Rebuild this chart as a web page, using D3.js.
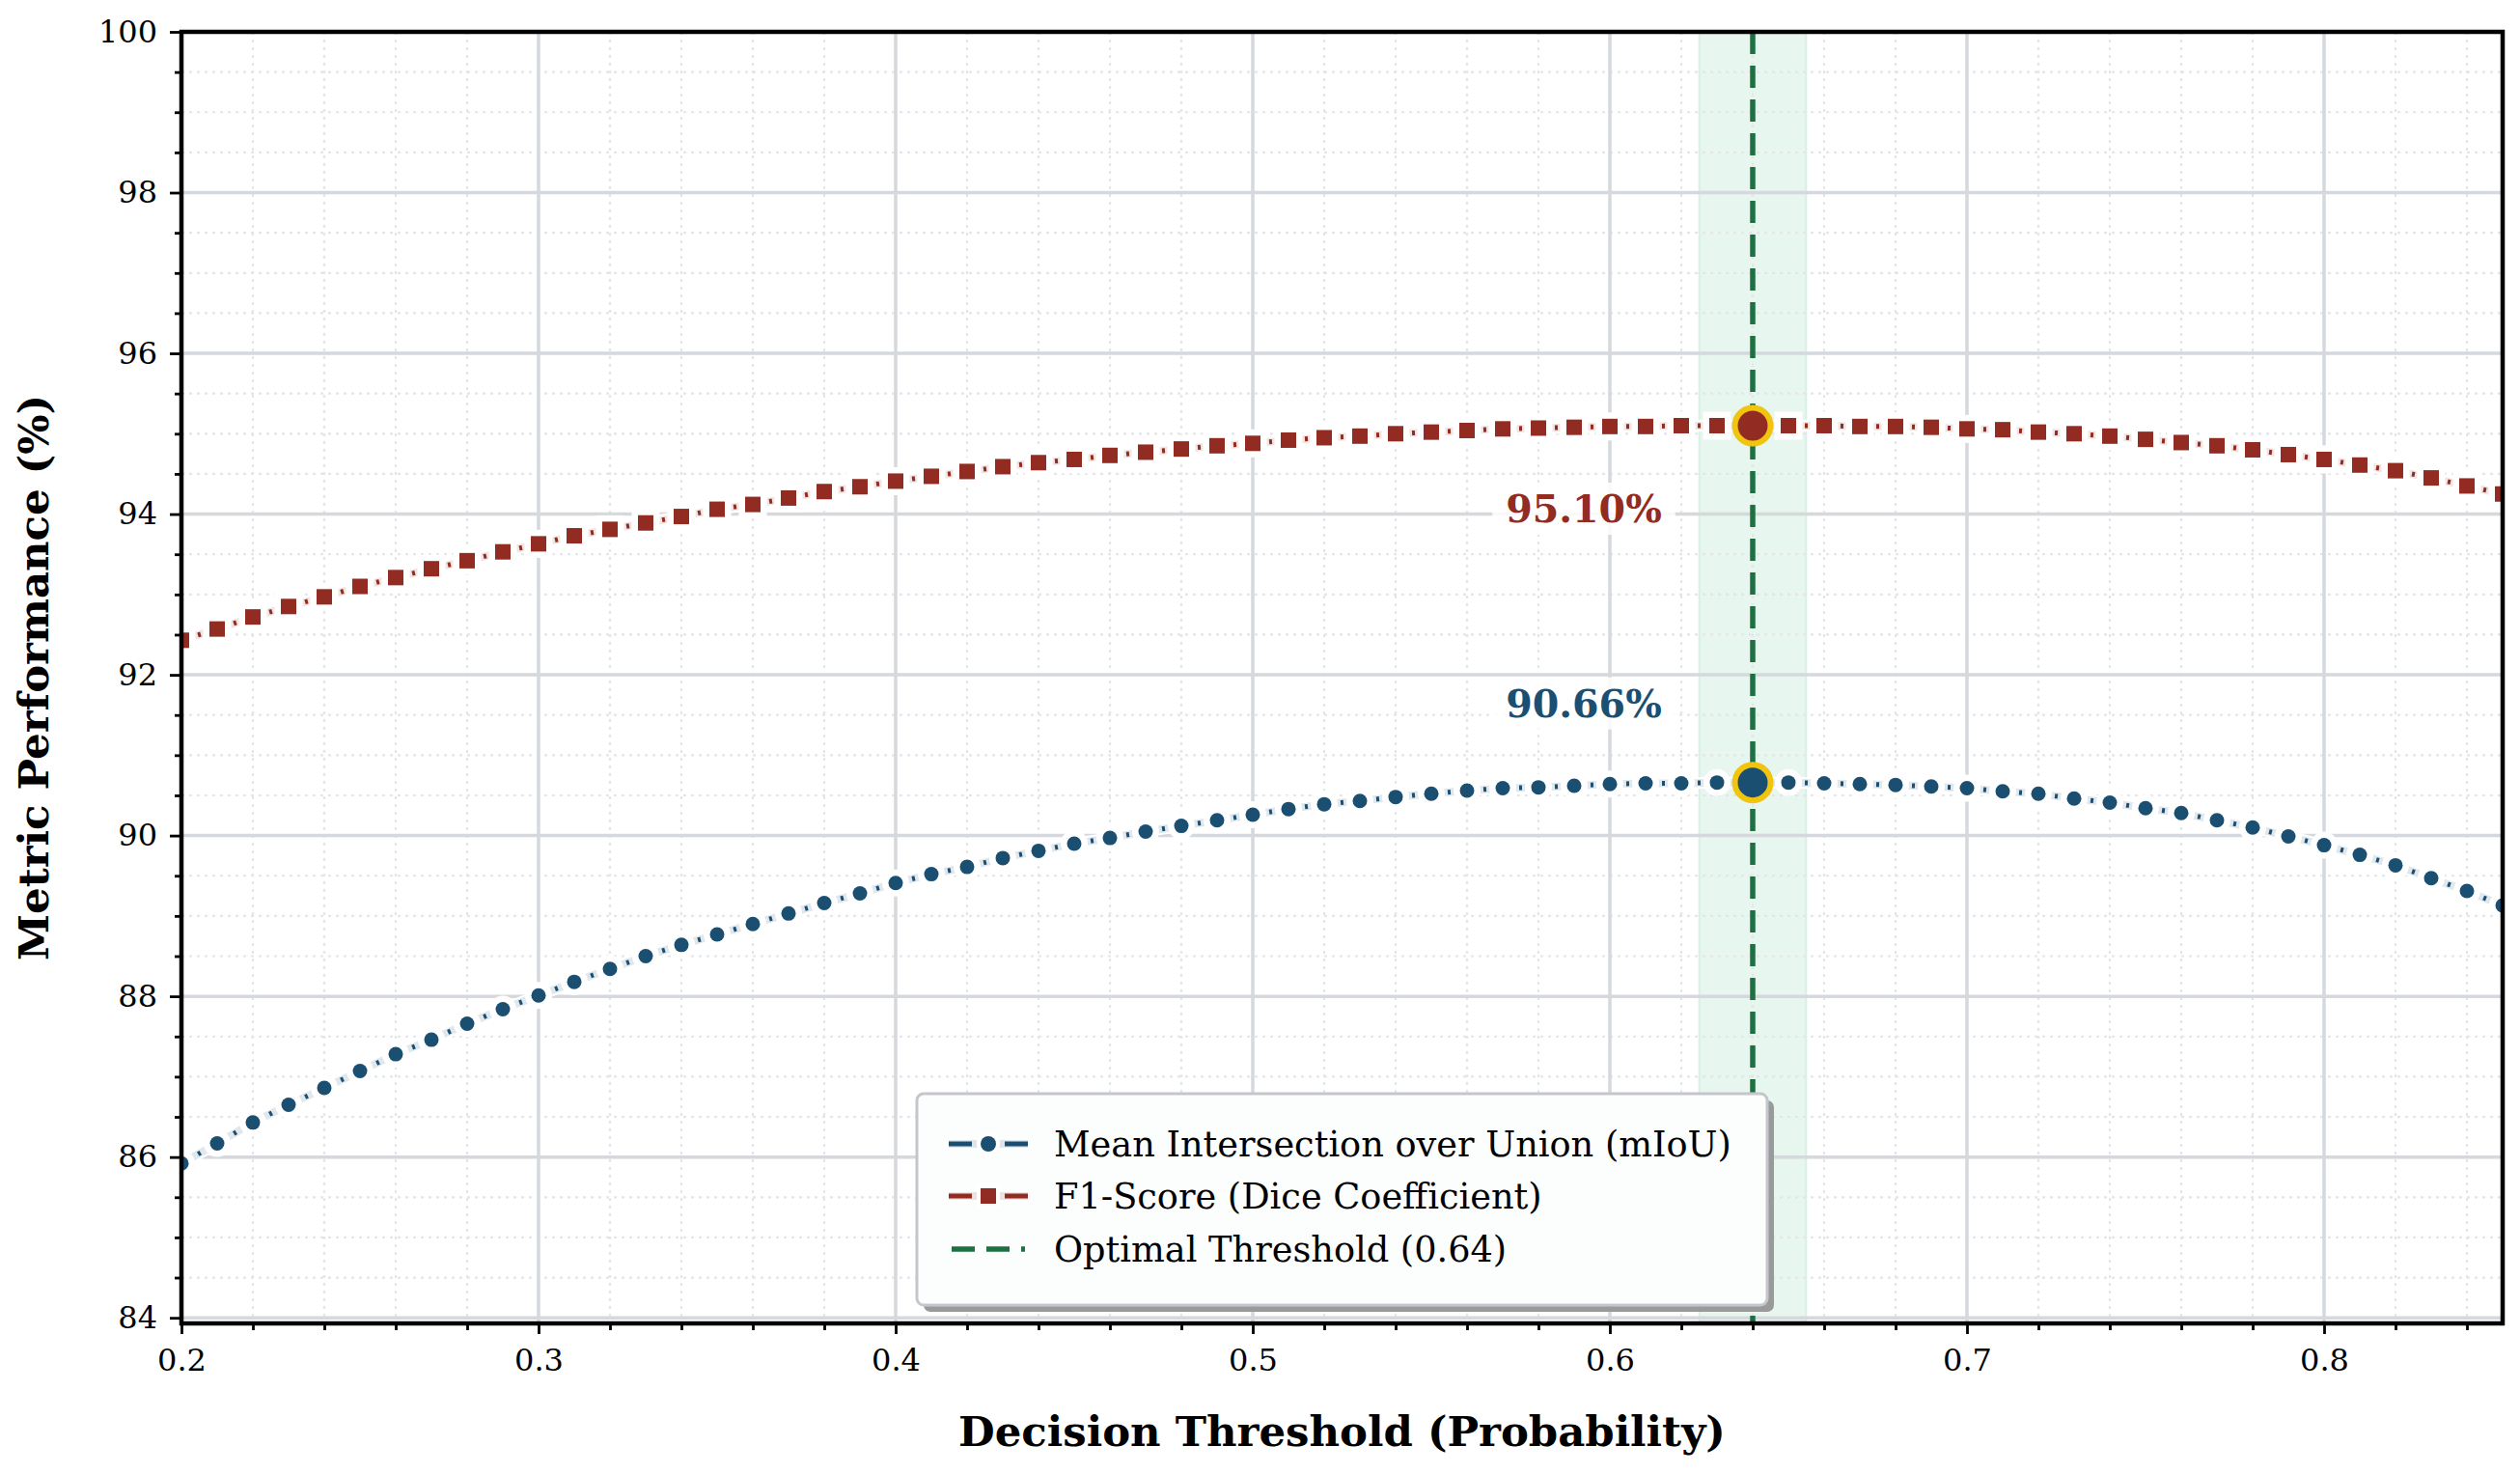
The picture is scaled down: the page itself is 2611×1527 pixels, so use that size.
<!DOCTYPE html>
<html>
<head>
<meta charset="utf-8">
<script src="https://cdn.jsdelivr.net/npm/d3@7"></script>
<style>
  body { margin: 0; background: #fff; }
  svg { display: block; font-family: "DejaVu Serif", serif; }
</style>
</head>
<body>
<svg id="chart"></svg>
<script>
// decision thresholds (x)
const thresholds = [0.20, 0.21, 0.22, 0.23, 0.24, 0.25, 0.26, 0.27, 0.28, 0.29,
  0.30, 0.31, 0.32, 0.33, 0.34, 0.35, 0.36, 0.37, 0.38, 0.39,
  0.40, 0.41, 0.42, 0.43, 0.44, 0.45, 0.46, 0.47, 0.48, 0.49,
  0.50, 0.51, 0.52, 0.53, 0.54, 0.55, 0.56, 0.57, 0.58, 0.59,
  0.60, 0.61, 0.62, 0.63, 0.64, 0.65, 0.66, 0.67, 0.68, 0.69,
  0.70, 0.71, 0.72, 0.73, 0.74, 0.75, 0.76, 0.77, 0.78, 0.79,
  0.80, 0.81, 0.82, 0.83, 0.84, 0.85];

// mIoU (%)
const miouValues = [85.92, 86.17, 86.43, 86.65, 86.86, 87.07, 87.28, 87.46, 87.66, 87.84,
  88.01, 88.18, 88.34, 88.50, 88.64, 88.77, 88.90, 89.03, 89.16, 89.28,
  89.41, 89.52, 89.61, 89.72, 89.81, 89.90, 89.97, 90.05, 90.12, 90.19,
  90.26, 90.33, 90.39, 90.43, 90.48, 90.52, 90.56, 90.59, 90.60, 90.62,
  90.64, 90.65, 90.65, 90.66, 90.66, 90.66, 90.65, 90.64, 90.63, 90.61,
  90.59, 90.55, 90.52, 90.46, 90.41, 90.34, 90.28, 90.19, 90.10, 89.99,
  89.88, 89.76, 89.63, 89.47, 89.31, 89.13];

// F1 / Dice (%)
const f1Values = [92.43, 92.57, 92.72, 92.85, 92.97, 93.10, 93.21, 93.32, 93.42, 93.53,
  93.63, 93.73, 93.81, 93.89, 93.97, 94.06, 94.12, 94.20, 94.28, 94.34,
  94.41, 94.47, 94.53, 94.59, 94.64, 94.68, 94.73, 94.77, 94.81, 94.85,
  94.88, 94.92, 94.95, 94.97, 95.00, 95.02, 95.04, 95.06, 95.07, 95.08,
  95.09, 95.09, 95.10, 95.10, 95.10, 95.10, 95.10, 95.09, 95.09, 95.08,
  95.06, 95.05, 95.02, 95.00, 94.97, 94.93, 94.89, 94.85, 94.80, 94.74,
  94.68, 94.61, 94.54, 94.45, 94.35, 94.25];

const optimalThreshold = 0.64;
const bestMiou = 90.66;
const bestF1 = 95.10;
const optimalBand = [0.625, 0.655];

const xTicks = [0.2, 0.3, 0.4, 0.5, 0.6, 0.7, 0.8];
const yTicks = [84, 86, 88, 90, 92, 94, 96, 98, 100];

const legendLabels = ["Mean Intersection over Union (mIoU)", "F1-Score (Dice Coefficient)", "Optimal Threshold (0.64)"];

const width = 2611, height = 1527;
const blue = "#1b4f72", red = "#922b21", green = "#1e7042", gold = "#f1c40f";

const svg = d3.select("#chart").attr("width", width).attr("height", height);
svg.append("rect").attr("width", width).attr("height", height).attr("fill", "#fff");

const x = d3.scaleLinear().domain([0.2, 0.85]).range([188, 2593]);
const y = d3.scaleLinear().domain([83.93, 100]).range([1371, 33]);
const [x0, x1] = x.range();
const [yb, yt] = y.range();

svg.append("defs").append("clipPath").attr("id", "plotclip")
  .append("rect").attr("x", x0).attr("y", yt).attr("width", x1 - x0).attr("height", yb - yt);

const plot = svg.append("g").attr("clip-path", "url(#plotclip)");

// optimal band
plot.append("rect")
  .attr("x", x(optimalBand[0])).attr("y", yt)
  .attr("width", x(optimalBand[1]) - x(optimalBand[0])).attr("height", yb - yt)
  .attr("fill", "#27ae60").attr("fill-opacity", 0.11)
  .attr("stroke", "#27ae60").attr("stroke-opacity", 0.12).attr("stroke-width", 2);

// minor grid
const xMinor = d3.range(0.2, 0.851, 0.02).map(d => +d.toFixed(2)).filter(d => Math.round(d * 100) % 10 !== 0);
const yMinor = d3.range(84, 100.01, 0.5).filter(d => d % 2 !== 0);
plot.append("g").selectAll("line").data(xMinor).join("line")
  .attr("x1", d => x(d)).attr("x2", d => x(d)).attr("y1", yt).attr("y2", yb)
  .attr("stroke", "#e3e5e8").attr("stroke-width", 2.2).attr("stroke-dasharray", "3,5");
plot.append("g").selectAll("line").data(yMinor).join("line")
  .attr("y1", d => y(d)).attr("y2", d => y(d)).attr("x1", x0).attr("x2", x1)
  .attr("stroke", "#e3e5e8").attr("stroke-width", 2.2).attr("stroke-dasharray", "3,5");

// major grid
plot.append("g").selectAll("line").data(xTicks).join("line")
  .attr("x1", d => x(d)).attr("x2", d => x(d)).attr("y1", yt).attr("y2", yb)
  .attr("stroke", "#d5d8dc").attr("stroke-width", 3.5);
plot.append("g").selectAll("line").data(yTicks).join("line")
  .attr("y1", d => y(d)).attr("y2", d => y(d)).attr("x1", x0).attr("x2", x1)
  .attr("stroke", "#d5d8dc").attr("stroke-width", 3.5);

// optimal threshold line
plot.append("line")
  .attr("x1", x(optimalThreshold)).attr("x2", x(optimalThreshold))
  .attr("y1", yt).attr("y2", yb)
  .attr("stroke", green).attr("stroke-width", 5.5).attr("stroke-dasharray", "23,12");

const seriesList = [
  { name: "miou", values: miouValues, color: blue, shape: "circle", best: bestMiou },
  { name: "f1", values: f1Values, color: red, shape: "square", best: bestF1 }
];

const line = d3.line().x(d => x(d[0])).y(d => y(d[1]));

function drawMarker(g, shape, cx, cy, size, fill, stroke, sw) {
  if (shape === "circle") {
    return g.append("circle").attr("cx", cx).attr("cy", cy).attr("r", size / 2)
      .attr("fill", fill).attr("stroke", stroke).attr("stroke-width", sw);
  }
  return g.append("rect").attr("x", cx - size / 2).attr("y", cy - size / 2)
    .attr("width", size).attr("height", size)
    .attr("fill", fill).attr("stroke", stroke).attr("stroke-width", sw);
}

seriesList.forEach(s => {
  const pts = thresholds.map((t, i) => [t, s.values[i]]);
  const g = plot.append("g");
  // white halo
  g.append("path").attr("d", line(pts)).attr("fill", "none")
    .attr("stroke", "#fff").attr("stroke-width", 12).attr("stroke-linejoin", "round");
  // pale body of the dash-dot line
  g.append("path").attr("d", line(pts)).attr("fill", "none")
    .attr("stroke", s.color).attr("stroke-opacity", 0.13).attr("stroke-width", 8);
  // the short "dot" of dash-dot, centred between neighbouring markers
  d3.pairs(pts).forEach(([a, b]) => {
    const ax = x(a[0]), ay = y(a[1]), bx = x(b[0]), by = y(b[1]);
    const L = Math.hypot(bx - ax, by - ay);
    g.append("line").attr("x1", ax).attr("y1", ay).attr("x2", bx).attr("y2", by)
      .attr("stroke", s.color).attr("stroke-width", 5)
      .attr("stroke-dasharray", `0,${L / 2 - 1.5},3,${L}`);
  });
  // marker halos then markers
  const size = s.shape === "circle" ? 15 : 16;
  pts.forEach(p => drawMarker(g, s.shape, x(p[0]), y(p[1]), size, "#fff", "#fff", 13));
  pts.forEach(p => drawMarker(g, s.shape, x(p[0]), y(p[1]), size, s.color, "none", 0));
});

// highlighted optimum points
seriesList.forEach(s => {
  plot.append("circle")
    .attr("cx", x(optimalThreshold)).attr("cy", y(s.best)).attr("r", 18.5)
    .attr("fill", s.color).attr("stroke", gold).attr("stroke-width", 6);
});

// value annotations
const annotations = [
  { text: bestF1.toFixed(2) + "%", value: bestF1, color: red, dy: 100 },
  { text: bestMiou.toFixed(2) + "%", value: bestMiou, color: blue, dy: -68 }
];
annotations.forEach(a => {
  const g = svg.append("g");
  const box = g.append("rect").attr("fill", "#fff").attr("fill-opacity", 0.85);
  const t = g.append("text")
    .attr("x", x(optimalThreshold) - 175).attr("y", y(a.value) + a.dy)
    .attr("text-anchor", "middle").attr("font-weight", "bold").attr("font-size", 39.6)
    .attr("fill", a.color).text(a.text);
  const bb = t.node().getBBox();
  box.attr("x", bb.x - 14).attr("y", bb.y - 4).attr("width", bb.width + 28).attr("height", bb.height + 8);
});

// axes
const xAxis = svg.append("g").attr("transform", `translate(0,${yb})`)
  .call(d3.axisBottom(x).tickValues(xTicks).tickFormat(d3.format(".1f")).tickSize(11).tickPadding(15));
const xMinorAxis = svg.append("g").attr("transform", `translate(0,${yb})`)
  .call(d3.axisBottom(x).tickValues(xMinor).tickFormat("").tickSize(7));
const yAxis = svg.append("g").attr("transform", `translate(${x0},0)`)
  .call(d3.axisLeft(y).tickValues(yTicks).tickFormat(d3.format("d")).tickSize(12).tickPadding(13));
const yMinorAxis = svg.append("g").attr("transform", `translate(${x0},0)`)
  .call(d3.axisLeft(y).tickValues(yMinor).tickFormat("").tickSize(7));

[xAxis, xMinorAxis, yAxis, yMinorAxis].forEach(a => {
  a.select(".domain").remove();
  a.selectAll(".tick line").attr("stroke", "#000").attr("stroke-width", 2.8);
  a.selectAll(".tick text").attr("font-family", "DejaVu Serif").attr("font-size", 32).attr("fill", "#000");
});

// spines
svg.append("rect").attr("x", x0).attr("y", yt).attr("width", x1 - x0).attr("height", yb - yt)
  .attr("fill", "none").attr("stroke", "#000").attr("stroke-width", 4.5);

// axis titles
svg.append("text").attr("x", (x0 + x1) / 2).attr("y", 1498)
  .attr("text-anchor", "middle").attr("font-weight", "bold").attr("font-size", 43.4)
  .text("Decision Threshold (Probability)");
svg.append("text").attr("transform", `translate(50,${(yt + yb) / 2}) rotate(-90)`)
  .attr("text-anchor", "middle").attr("font-weight", "bold").attr("font-size", 43.4)
  .text("Metric Performance (%)");

// legend
const lg = svg.append("g");
const lx = 950, ly = 1133, lw = 881, lh = 219;
lg.append("rect").attr("x", lx + 7).attr("y", ly + 7).attr("width", lw).attr("height", lh)
  .attr("rx", 7).attr("fill", "#9a9a9a");
lg.append("rect").attr("x", lx).attr("y", ly).attr("width", lw).attr("height", lh)
  .attr("rx", 7).attr("fill", "#fcfdfd").attr("stroke", "#c3c7cb").attr("stroke-width", 3);

const rowY = [1185, 1239, 1294];
const hx0 = 983, hx1 = 1065;
[0, 1].forEach(i => {
  const s = seriesList[i];
  const cy = rowY[i];
  lg.append("line").attr("x1", hx0).attr("x2", hx1).attr("y1", cy).attr("y2", cy)
    .attr("stroke", s.color).attr("stroke-opacity", 0.13).attr("stroke-width", 8);
  lg.append("line").attr("x1", hx0).attr("x2", hx1).attr("y1", cy).attr("y2", cy)
    .attr("stroke", s.color).attr("stroke-width", 5).attr("stroke-dasharray", "24,58");
  lg.append("line").attr("x1", hx1).attr("x2", hx1 - 24).attr("y1", cy).attr("y2", cy)
    .attr("stroke", s.color).attr("stroke-width", 5);
  drawMarker(lg, s.shape, (hx0 + hx1) / 2, cy, 16, "#fff", "#fff", 8);
  drawMarker(lg, s.shape, (hx0 + hx1) / 2, cy, 16, s.color, "none", 0);
});
lg.append("line").attr("x1", hx0 + 3).attr("x2", hx1 - 3).attr("y1", rowY[2]).attr("y2", rowY[2])
  .attr("stroke", green).attr("stroke-width", 5.5).attr("stroke-dasharray", "24,12");

lg.selectAll("text.lab").data(legendLabels).join("text").attr("class", "lab")
  .attr("x", 1092).attr("y", (d, i) => rowY[i]).attr("dy", "0.36em")
  .attr("font-size", 36.7).attr("fill", "#000").text(d => d);
</script>
</body>
</html>
